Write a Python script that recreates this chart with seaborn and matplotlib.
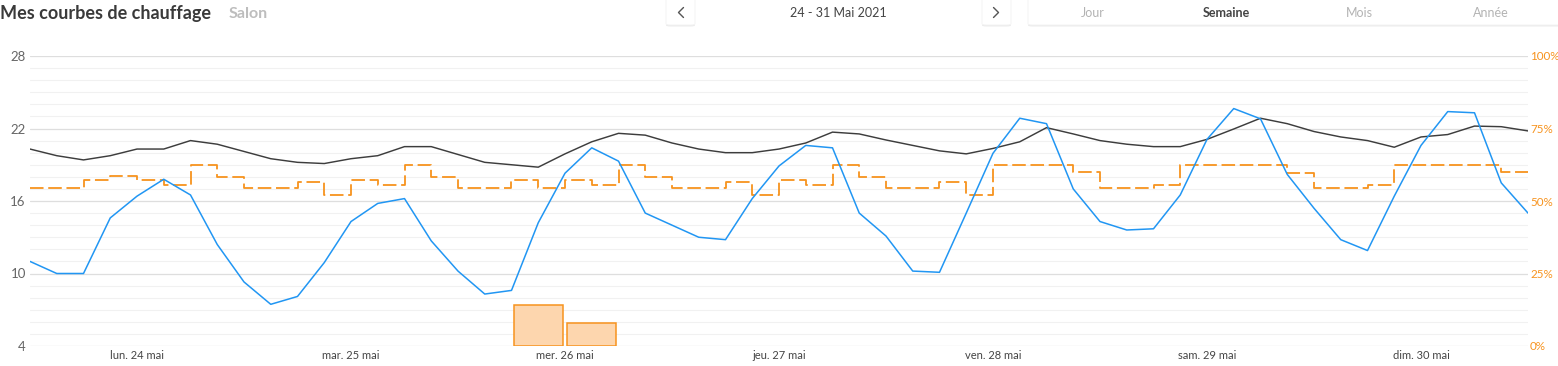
import matplotlib
matplotlib.use("Agg")
import matplotlib.pyplot as plt
import seaborn as sns
import pandas as pd
from matplotlib.patches import FancyBboxPatch
from matplotlib.lines import Line2D

# ---------------- data ----------------
hours = list(range(0, 169, 3))  # 3-hourly samples, 24 May 00:00 -> 31 May 00:00

outdoor = [11.0, 10.0, 10.0, 14.6, 16.4, 17.8, 16.5, 12.4,
           9.3, 7.45, 8.1, 10.9, 14.3, 15.8, 16.2, 12.7,
           10.2, 8.3, 8.6, 14.2, 18.3, 20.4, 19.3, 15.0,
           14.0, 13.0, 12.8, 16.2, 18.9, 20.6, 20.4, 15.0,
           13.1, 10.2, 10.1, 15.0, 19.95, 22.85, 22.4, 17.0,
           14.3, 13.6, 13.7, 16.5, 21.1, 23.65, 22.8, 18.2,
           15.4, 12.8, 11.9, 16.4, 20.6, 23.4, 23.3, 17.5, 15.0]

indoor = [20.3, 19.75, 19.4, 19.75, 20.3, 20.3, 21.0, 20.7,
          20.1, 19.5, 19.2, 19.1, 19.5, 19.75, 20.5, 20.5,
          19.85, 19.2, 19.0, 18.8, 19.9, 20.9, 21.6, 21.45,
          20.8, 20.3, 20.0, 20.0, 20.3, 20.8, 21.7, 21.55,
          21.05, 20.6, 20.15, 19.9, 20.35, 20.9, 22.07, 21.55,
          21.0, 20.7, 20.5, 20.5, 21.1, 21.96, 22.85, 22.4,
          21.75, 21.3, 21.0, 20.45, 21.3, 21.5, 22.2, 22.15, 21.8]

setpoint = [17.05, 17.05, 17.7, 18.1, 17.7, 17.3, 19.0, 18.0,
            17.05, 17.05, 17.6, 16.5, 17.7, 17.3, 19.0, 18.0,
            17.05, 17.05, 17.7, 17.05, 17.7, 17.3, 19.0, 18.0,
            17.05, 17.05, 17.6, 16.5, 17.7, 17.3, 19.0, 18.0,
            17.05, 17.05, 17.6, 16.5, 19.0, 19.0, 19.0, 18.4,
            17.05, 17.05, 17.35, 19.0, 19.0, 19.0, 19.0, 18.3,
            17.05, 17.05, 17.35, 19.0, 19.0, 19.0, 19.0, 18.4, 18.4]

heat_hours = [57, 63]      # centre of 6-hour slots (26 May 09:00, 15:00)
heat_pct = [14, 8]

day_ticks = [12, 36, 60, 84, 108, 132, 156]
day_labels = ["lun. 24 mai", "mar. 25 mai", "mer. 26 mai", "jeu. 27 mai",
              "ven. 28 mai", "sam. 29 mai", "dim. 30 mai"]
left_ticks = [4, 10, 16, 22, 28]
right_ticks = [0, 25, 50, 75, 100]
right_labels = ["0%", "25%", "50%", "75%", "100%"]
tabs = ["Jour", "Semaine", "Mois", "Année"]

df = pd.DataFrame({"h": hours, "outdoor": outdoor, "indoor": indoor, "setpoint": setpoint})

# ---------------- style ----------------
sns.set_theme(style="white")
plt.rcParams["font.family"] = ["Lato", "DejaVu Sans"]

ORANGE = "#F7931E"
BLUE = "#2196F3"
DARK = "#3d3d3d"

W, H = 1558, 366
fig = plt.figure(figsize=(W / 100, H / 100), dpi=100)
fig.patch.set_facecolor("white")

L, R, T, B = 30, 1528, 56, 346
ax = fig.add_axes([L / W, 1 - B / H, (R - L) / W, (B - T) / H])
ax2 = ax.twinx()
ax2.set_ylim(0, 100)

# gridlines (drawn on the back axes so that bars cover them)
ymin, ymax = 4, 28
for v in range(ymin, ymax + 1):
    major = (v - ymin) % 6 == 0
    ax2.axhline((v - ymin) / (ymax - ymin) * 100, color="#dedede" if major else "#f1f1f1",
                lw=0.9 if major else 0.8, zorder=0)

# bars on right axis (heating %)
ax2.bar(heat_hours, heat_pct, width=5.45, color="#FDD6AE", edgecolor=ORANGE,
        linewidth=1.1, zorder=2)
ax2.set_yticks(right_ticks)
ax2.set_yticklabels(right_labels)
ax2.tick_params(axis="y", length=0, pad=1.5, labelsize=8.4, labelcolor=ORANGE)
for s in ax2.spines.values():
    s.set_visible(False)

ax.set_zorder(ax2.get_zorder() + 1)
ax.patch.set_visible(False)

sns.lineplot(data=df, x="h", y="setpoint", ax=ax, color=ORANGE, lw=1.3,
             drawstyle="steps-post", zorder=3)
ax.lines[-1].set_dashes([7.5, 2.6])
sns.lineplot(data=df, x="h", y="indoor", ax=ax, color=DARK, lw=1.05, zorder=4)
sns.lineplot(data=df, x="h", y="outdoor", ax=ax, color=BLUE, lw=1.1, zorder=5)

ax.set_xlim(0, 168)
ax.set_ylim(ymin, ymax)
ax.set_yticks(left_ticks)
ax.set_xticks(day_ticks)
ax.set_xticklabels(day_labels)
ax.set_xlabel("")
ax.set_ylabel("")
ax2.set_ylabel("")
ax.tick_params(axis="y", length=0, pad=3, labelsize=9.5, labelcolor="#666666")
ax.tick_params(axis="x", length=0, pad=3, labelsize=8, labelcolor="#444444")
for s in ax.spines.values():
    s.set_visible(False)

# ---------------- header ----------------
fig.text(0 / W, 1 - 14 / H, "Mes courbes de chauffage", fontsize=13, fontweight="bold",
         color="#3a3a3a", va="center", ha="left")
fig.text(229 / W, 1 - 14 / H, "Salon", fontsize=11.5, fontweight="bold",
         color="#bdbdbd", va="center", ha="left")


def box(x0, x1, y0, y1):
    sh = FancyBboxPatch((x0 / W, 1 - (y1 + 1.5) / H), (x1 - x0) / W, (y1 - y0) / H,
                        boxstyle="round,pad=0,rounding_size=0.003", transform=fig.transFigure,
                        facecolor="#ececec", edgecolor="none", zorder=1)
    fig.patches.append(sh)
    bx = FancyBboxPatch((x0 / W, 1 - y1 / H), (x1 - x0) / W, (y1 - y0) / H,
                        boxstyle="round,pad=0,rounding_size=0.003", transform=fig.transFigure,
                        facecolor="white", edgecolor="#f3f3f3", linewidth=0.6, zorder=2)
    fig.patches.append(bx)


box(666, 695, -5, 25)
box(982, 1011, -5, 25)
box(1028, 1570, -5, 25)


def chevron(xs, ys):
    fig.lines.append(Line2D([x / W for x in xs], [1 - y / H for y in ys],
                            transform=fig.transFigure, color="#555555", lw=1.0,
                            solid_capstyle="round", zorder=3))


chevron([683.5, 678.5, 683.5], [7.5, 12.5, 17.5])
chevron([993.5, 998.5, 993.5], [7.5, 12.5, 17.5])

fig.text(838 / W, 1 - 13 / H, "24 - 31 Mai 2021", fontsize=9, color="#444444",
         ha="center", va="center", zorder=3)
tab_x = [1093, 1226, 1359, 1491]
for t, xx in zip(tabs, tab_x):
    sel = t == "Semaine"
    fig.text(xx / W, 1 - 13 / H, t, fontsize=9, color="#444444" if sel else "#b3b3b3",
             fontweight="bold" if sel else "normal", ha="center", va="center", zorder=3)

fig.savefig("out.png", dpi=100, facecolor="white")
